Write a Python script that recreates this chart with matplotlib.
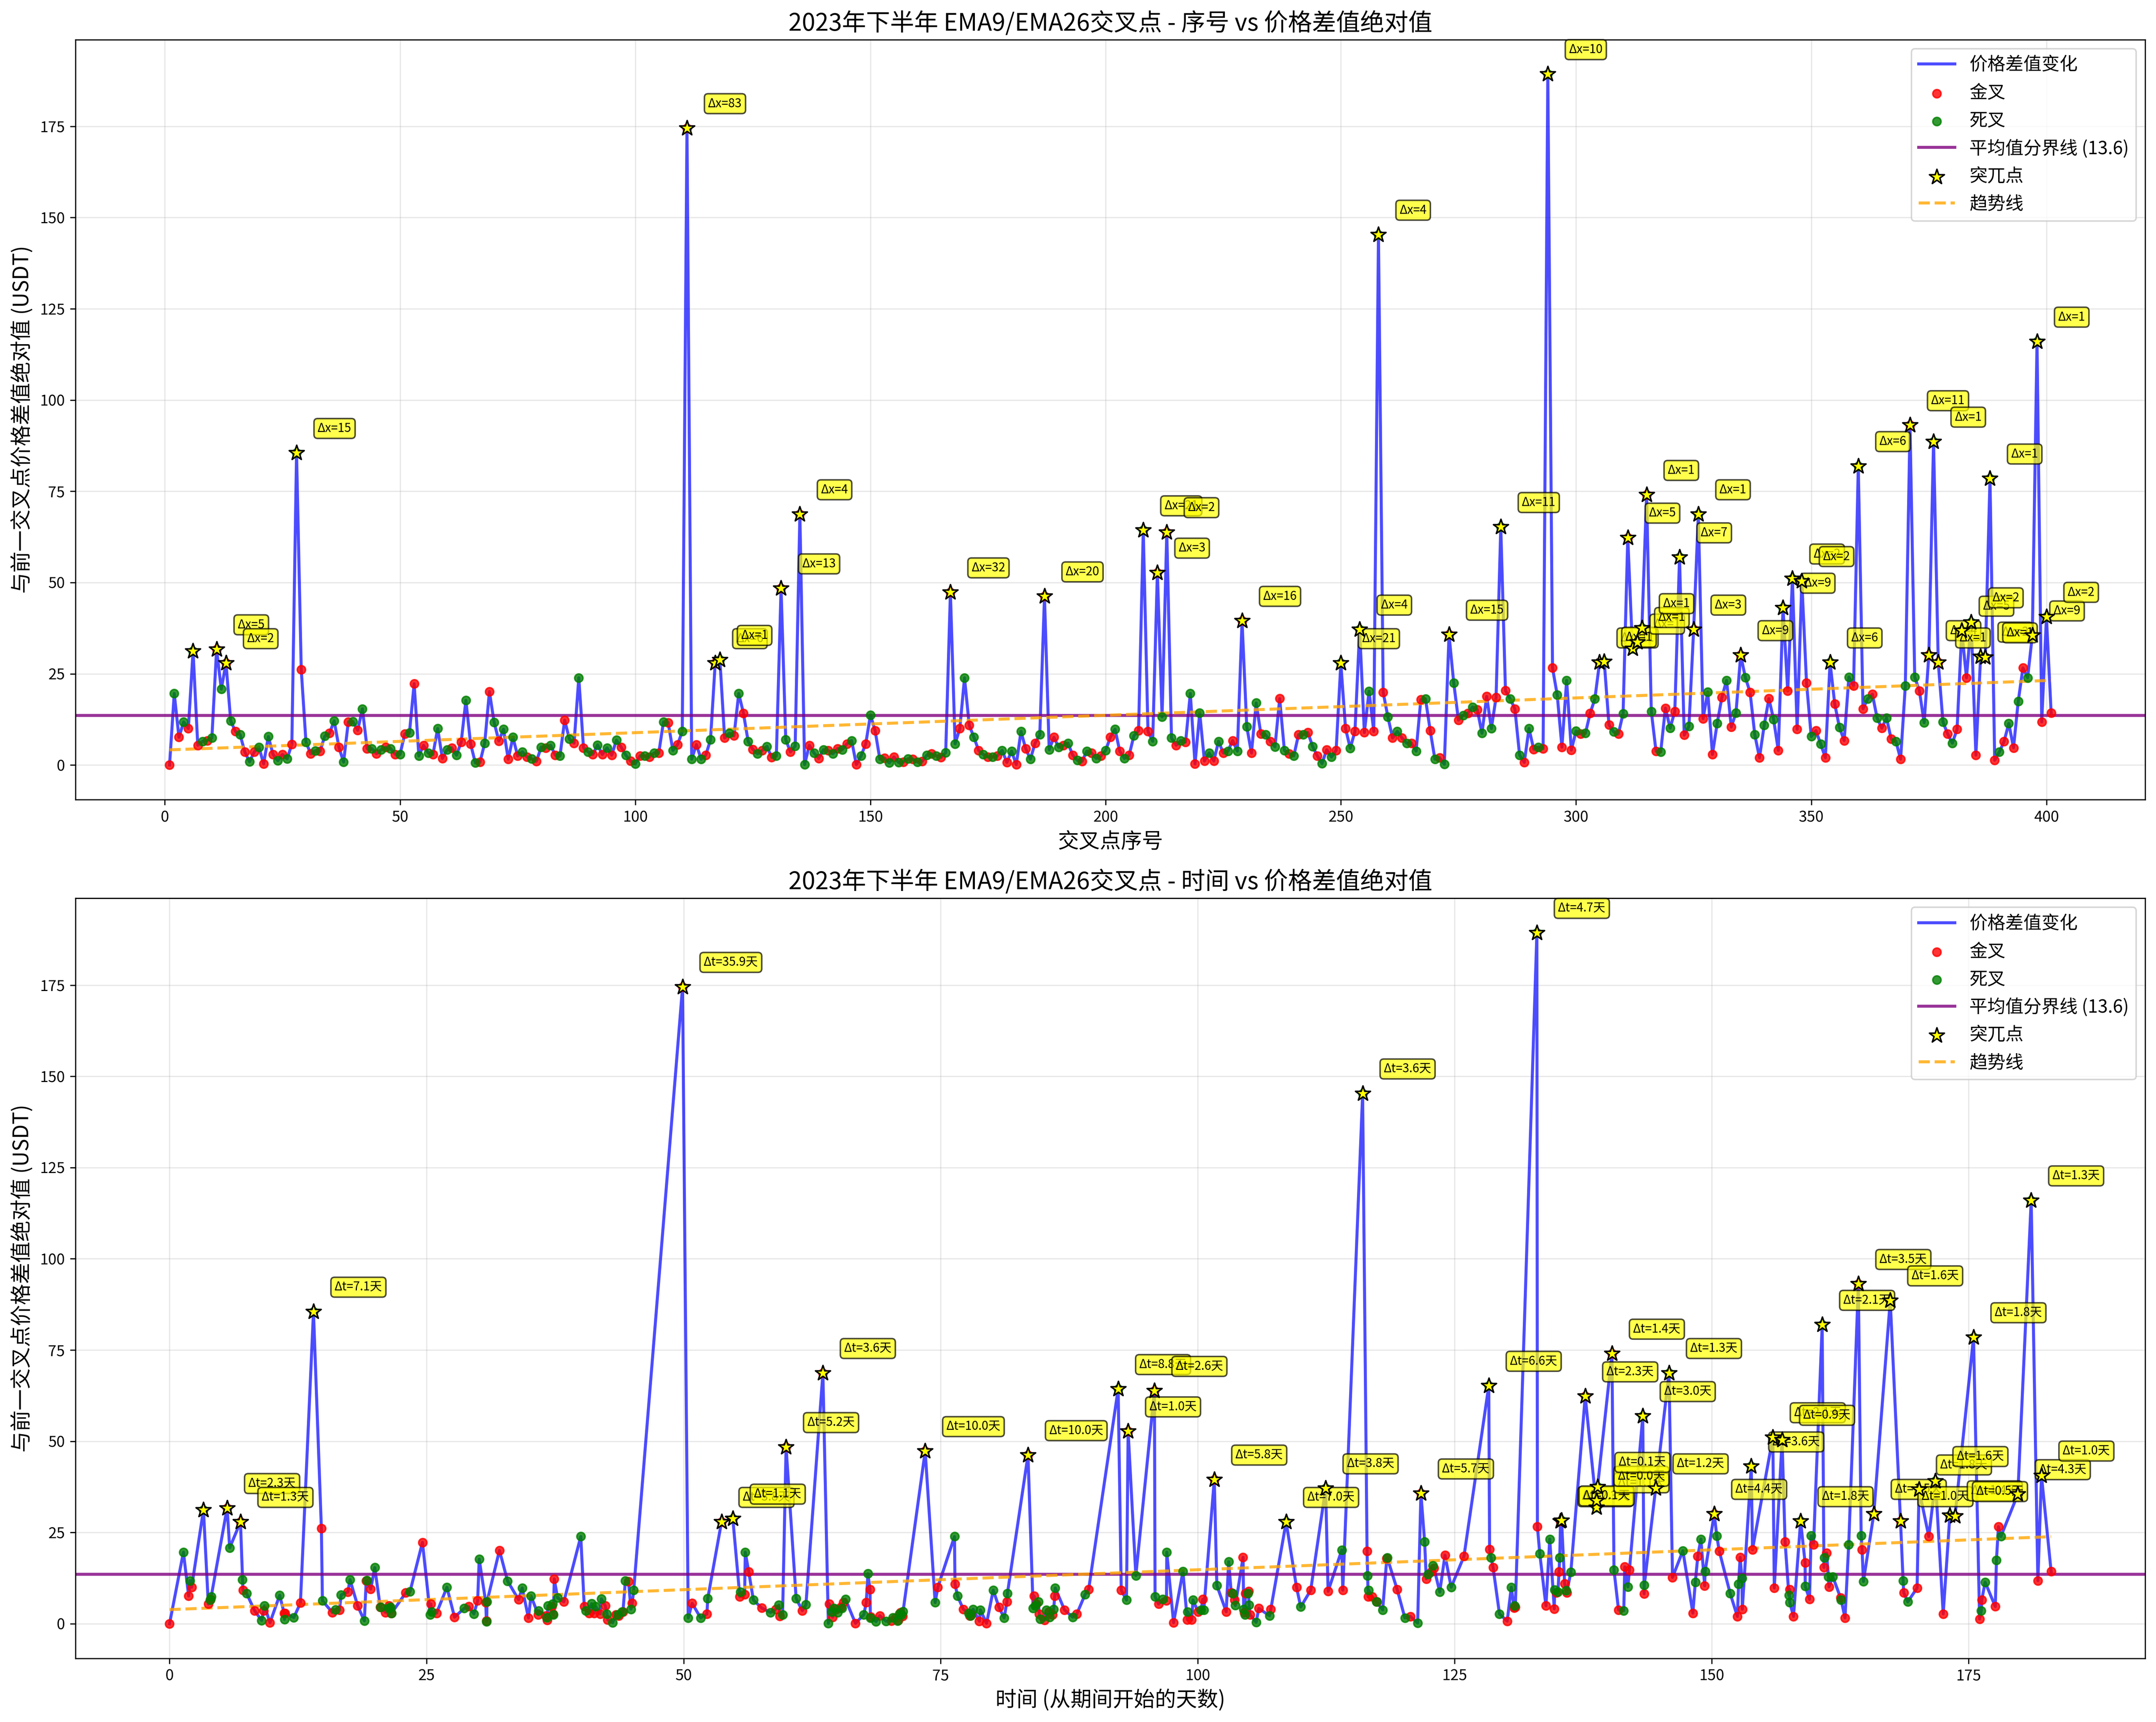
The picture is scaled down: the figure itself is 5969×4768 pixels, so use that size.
import numpy as np
import matplotlib
matplotlib.use("Agg")
import matplotlib.pyplot as plt

plt.rcParams['font.family'] = ['Noto Sans CJK SC', 'DejaVu Sans']
plt.rcParams['axes.unicode_minus'] = False

# ---------------- data ----------------
# |price difference| to the previous crossover, crossover #1 .. #401
price_gap = [
    0.0, 19.6, 7.6, 11.8, 10.0, 31.2, 5.4, 6.5, 6.7, 7.4,
    31.7, 20.8, 27.9, 12.1, 9.2, 8.3, 3.6, 0.9, 3.6, 4.9,
    0.3, 7.8, 2.9, 1.2, 2.9, 1.7, 5.7, 85.5, 26.1, 6.3,
    3.1, 3.9, 3.8, 7.9, 8.7, 12.1, 4.9, 0.8, 11.8, 11.9,
    9.5, 15.4, 4.5, 4.5, 3.1, 4.2, 4.9, 4.5, 2.9, 2.9,
    8.5, 8.8, 22.3, 2.5, 5.4, 3.3, 2.9, 10.0, 1.8, 4.2,
    4.7, 2.7, 6.3, 17.7, 5.8, 0.6, 0.8, 6.0, 20.1, 11.7,
    6.6, 9.8, 1.6, 7.6, 2.5, 3.6, 2.2, 1.7, 1.0, 4.9,
    4.7, 5.4, 2.7, 2.5, 12.3, 7.1, 6.0, 23.9, 4.7, 3.6,
    2.9, 5.5, 2.9, 4.7, 2.7, 6.8, 4.9, 2.7, 1.1, 0.3,
    2.5, 2.5, 2.2, 3.3, 3.3, 11.8, 11.6, 4.0, 5.6, 9.2,
    174.5, 1.6, 5.6, 1.6, 2.7, 6.9, 27.9, 28.8, 7.4, 8.7,
    8.0, 19.6, 14.2, 6.5, 4.3, 3.1, 4.0, 5.1, 2.1, 2.5,
    48.4, 6.9, 3.6, 5.2, 68.7, 0.1, 5.4, 3.3, 1.8, 4.2,
    4.0, 3.1, 4.5, 4.2, 5.8, 6.7, 0.1, 2.5, 5.8, 13.7,
    9.4, 1.6, 1.9, 0.6, 2.2, 0.7, 0.8, 1.7, 1.6, 0.8,
    1.0, 2.7, 3.1, 2.5, 2.1, 3.4, 47.3, 5.8, 10.0, 23.9,
    10.9, 7.6, 4.0, 2.9, 2.2, 2.2, 2.5, 4.0, 0.7, 3.8,
    0.1, 9.2, 4.5, 1.6, 6.0, 8.3, 46.2, 4.2, 7.6, 4.9,
    5.4, 6.0, 2.7, 1.3, 1.0, 3.8, 3.3, 1.8, 2.5, 4.0,
    7.6, 9.8, 3.8, 1.8, 2.7, 8.0, 9.4, 64.3, 9.2, 6.5,
    52.7, 13.2, 63.8, 7.4, 5.4, 6.7, 6.3, 19.6, 0.3, 14.3,
    1.1, 3.3, 1.1, 6.5, 3.3, 3.8, 6.7, 3.8, 39.5, 10.5,
    3.3, 17.0, 8.5, 8.3, 6.5, 5.0, 18.2, 4.0, 3.1, 2.5,
    8.3, 8.3, 8.9, 5.1, 2.5, 0.4, 4.2, 2.2, 4.0, 27.9,
    10.0, 4.6, 9.2, 37.1, 8.9, 20.2, 9.2, 145.3, 19.9, 13.2,
    7.4, 9.2, 7.4, 6.0, 6.0, 3.8, 17.9, 18.1, 9.4, 1.6,
    2.0, 0.2, 35.7, 22.5, 12.3, 13.6, 14.2, 15.9, 15.2, 8.7,
    18.8, 10.0, 18.5, 65.2, 20.4, 18.1, 15.4, 2.7, 0.7, 10.0,
    4.3, 4.9, 4.5, 189.3, 26.6, 19.2, 4.9, 23.2, 4.1, 9.3,
    8.5, 8.7, 14.2, 18.1, 28.1, 28.3, 11.0, 9.1, 8.5, 14.1,
    62.3, 31.9, 33.7, 37.5, 74.0, 14.7, 3.8, 3.6, 15.6, 10.1,
    14.7, 56.9, 8.2, 10.6, 37.1, 68.7, 12.7, 20.0, 2.9, 11.4,
    18.5, 23.2, 10.4, 14.3, 30.1, 24.0, 19.9, 8.3, 2.0, 10.9,
    18.2, 12.5, 4.0, 43.1, 20.3, 51.1, 9.8, 50.4, 22.5, 7.8,
    9.4, 5.8, 2.0, 28.1, 16.7, 10.3, 6.7, 24.1, 21.7, 81.9,
    15.4, 18.1, 19.4, 12.9, 10.1, 12.9, 7.1, 6.5, 1.6, 21.7,
    93.1, 24.1, 20.3, 11.6, 30.1, 88.6, 28.1, 11.8, 8.5, 6.0,
    9.8, 36.8, 23.9, 39.1, 2.7, 29.7, 29.5, 78.5, 1.3, 3.6,
    6.5, 11.4, 4.7, 17.4, 26.6, 23.9, 35.5, 116.0, 11.8, 40.6,
    14.3,
]

# days since the start of the period, same order
cross_day = [
    0.0, 1.35, 1.86, 2.0, 2.15, 3.3, 3.77, 3.95, 4.0, 4.05,
    5.6, 5.85, 6.9, 7.1, 7.14, 7.5, 8.27, 8.96, 9.16, 9.24,
    9.77, 10.71, 11.15, 11.18, 11.22, 12.09, 12.73, 14.0, 14.77, 14.87,
    15.84, 16.14, 16.53, 16.69, 17.35, 17.55, 18.3, 18.95, 19.13, 19.2,
    19.57, 19.96, 20.5, 20.55, 21.0, 21.3, 21.35, 21.5, 21.55, 21.6,
    22.98, 23.39, 24.6, 25.36, 25.42, 25.5, 25.97, 26.98, 27.72, 28.65,
    29.1, 29.6, 29.97, 30.12, 30.76, 30.82, 30.85, 30.88, 32.09, 32.88,
    33.95, 34.3, 34.91, 35.16, 35.86, 35.9, 36.6, 36.7, 36.75, 36.8,
    37.2, 37.27, 37.3, 37.34, 37.42, 37.74, 38.35, 40.0, 40.34, 40.5,
    40.8, 41.05, 41.3, 41.45, 41.9, 42.0, 42.38, 42.55, 42.62, 43.1,
    43.4, 43.6, 43.7, 44.0, 44.1, 44.34, 44.64, 44.88, 45.0, 45.15,
    49.9, 50.45, 50.83, 51.66, 52.27, 52.35, 53.69, 54.79, 55.47, 55.53,
    55.94, 56.0, 56.34, 56.79, 57.6, 58.46, 58.97, 59.27, 59.37, 59.63,
    59.97, 60.95, 61.55, 61.9, 63.55, 64.08, 64.18, 64.38, 64.5, 64.64,
    64.84, 65.0, 65.3, 65.4, 65.55, 65.75, 66.72, 67.53, 67.77, 67.93,
    68.13, 68.17, 68.23, 68.72, 69.08, 69.69, 70.23, 70.35, 70.59, 70.8,
    70.9, 71.0, 71.1, 71.2, 71.3, 71.35, 73.5, 74.47, 74.73, 76.35,
    76.4, 76.65, 77.2, 77.75, 77.85, 77.9, 78.0, 78.16, 78.77, 78.87,
    79.47, 80.12, 80.68, 81.18, 81.45, 81.5, 83.5, 84.0, 84.1, 84.2,
    84.3, 84.5, 84.6, 84.7, 85.1, 85.3, 85.55, 85.6, 85.9, 86.0,
    86.1, 86.15, 87.05, 87.85, 88.25, 89.05, 89.4, 92.27, 92.57, 93.08,
    93.24, 93.99, 95.8, 95.86, 96.2, 96.6, 96.97, 97.0, 97.66, 98.57,
    98.99, 99.03, 99.43, 99.55, 100.04, 100.34, 100.5, 100.6, 101.62, 101.87,
    102.78, 103.02, 103.27, 103.43, 103.6, 103.67, 104.42, 104.48, 104.55, 104.6,
    104.65, 104.9, 104.95, 105.0, 105.1, 105.69, 105.95, 107.0, 107.12, 108.61,
    109.62, 110.03, 111.0, 112.45, 112.69, 114.02, 114.12, 116.05, 116.48, 116.54,
    116.58, 116.62, 116.99, 117.39, 117.42, 118.0, 118.4, 118.44, 119.41, 120.16,
    120.7, 121.4, 121.72, 122.08, 122.24, 122.44, 122.75, 122.9, 123.0, 123.55,
    124.06, 124.66, 125.91, 128.32, 128.4, 128.54, 128.74, 129.36, 130.11, 130.51,
    130.78, 130.82, 130.9, 133.0, 133.05, 133.28, 133.88, 134.25, 134.69, 134.73,
    134.9, 135.05, 135.15, 135.22, 135.3, 135.4, 135.7, 135.86, 135.9, 136.3,
    137.7, 138.8, 138.8, 138.9, 140.3, 140.5, 140.94, 141.45, 141.55, 141.85,
    142.0, 143.3, 143.43, 143.45, 144.55, 145.85, 146.19, 147.2, 148.17, 148.41,
    148.65, 148.95, 149.32, 149.36, 150.25, 150.5, 150.74, 151.8, 152.5, 152.62,
    152.77, 152.94, 152.98, 153.85, 153.97, 155.95, 156.09, 156.85, 157.14, 157.51,
    157.58, 157.6, 157.96, 158.65, 159.09, 159.1, 159.52, 159.67, 159.91, 160.75,
    160.92, 160.96, 161.18, 161.35, 161.41, 161.78, 162.54, 162.6, 162.97, 163.33,
    164.27, 164.54, 164.63, 164.76, 165.77, 167.37, 168.37, 168.62, 168.68, 169.07,
    169.98, 170.17, 171.12, 171.77, 172.52, 173.17, 173.67, 175.47, 176.06, 176.23,
    176.27, 176.6, 177.59, 177.7, 177.89, 178.13, 179.78, 181.08, 181.73, 182.08,
    183.02,
]

# crossover numbers flagged as spikes (突兀点)
spike_no = [
    6, 11, 13, 28, 111, 117, 118, 131, 135, 167, 187, 208, 211, 213, 229,
    250, 254, 258, 273, 284, 294, 305, 306, 311, 312, 313, 314, 315, 322,
    325, 326, 335, 344, 346, 348, 354, 360, 371, 375, 376, 377, 382, 384,
    386, 387, 388, 397, 398, 400,
]

first_cross = "金叉"   # crossovers alternate 金叉 / 死叉 from here
mean_gap = 13.6        # as printed in the legend

# ---------------- prep ----------------
gap = np.array(price_gap)
days = np.array(cross_day)
seq = np.arange(1, len(gap) + 1)
golden = np.array([(i % 2 == 0) == (first_cross == "金叉") for i in range(len(gap))])
spk = np.array(spike_no) - 1


def draw_panel(ax, x, title, xlabel, tag_fmt):
    ax.plot(x, gap, color='blue', alpha=0.7, linewidth=2, label='价格差值变化', zorder=2)
    ax.scatter(x[golden], gap[golden], color='red', s=30, alpha=0.8, label='金叉', zorder=4)
    ax.scatter(x[~golden], gap[~golden], color='green', s=30, alpha=0.8, label='死叉', zorder=4)
    ax.axhline(mean_gap, color='purple', linewidth=2, alpha=0.8,
               label=f'平均值分界线 ({mean_gap:.1f})', zorder=2)
    ax.scatter(x[spk], gap[spk], marker='*', s=110, color='yellow', edgecolor='black',
               linewidth=1, label='突兀点', zorder=6)
    k, b = np.polyfit(x, gap, 1)
    ax.plot(x, k * x + b, '--', color='orange', alpha=0.8, linewidth=2, label='趋势线', zorder=3)

    for prev, cur in zip(spk[:-1], spk[1:]):
        ax.annotate(tag_fmt(x[cur] - x[prev]), (x[cur], gap[cur]),
                    xytext=(14, 14), textcoords='offset points', fontsize=8,
                    bbox=dict(boxstyle='round,pad=0.3', facecolor='yellow', alpha=0.7),
                    zorder=5)

    ax.set_title(title, fontsize=16)
    ax.set_xlabel(xlabel, fontsize=14)
    ax.set_ylabel('与前一交叉点价格差值绝对值 (USDT)', fontsize=14)
    ax.grid(True, alpha=0.3)
    ax.legend(loc='upper right', fontsize=12)


fig, (ax1, ax2) = plt.subplots(2, 1, figsize=(5969 / 300, 4768 / 300), dpi=300)
fig.subplots_adjust(left=0.035, right=0.995, top=0.977, bottom=0.037, hspace=0.13)

draw_panel(ax1, seq.astype(float),
           '2023年下半年 EMA9/EMA26交叉点 - 序号 vs 价格差值绝对值', '交叉点序号',
           lambda d: f'Δx={int(round(d))}')
draw_panel(ax2, days,
           '2023年下半年 EMA9/EMA26交叉点 - 时间 vs 价格差值绝对值', '时间 (从期间开始的天数)',
           lambda d: f'Δt={d:.1f}天')

fig.savefig('out.png', dpi=300)
